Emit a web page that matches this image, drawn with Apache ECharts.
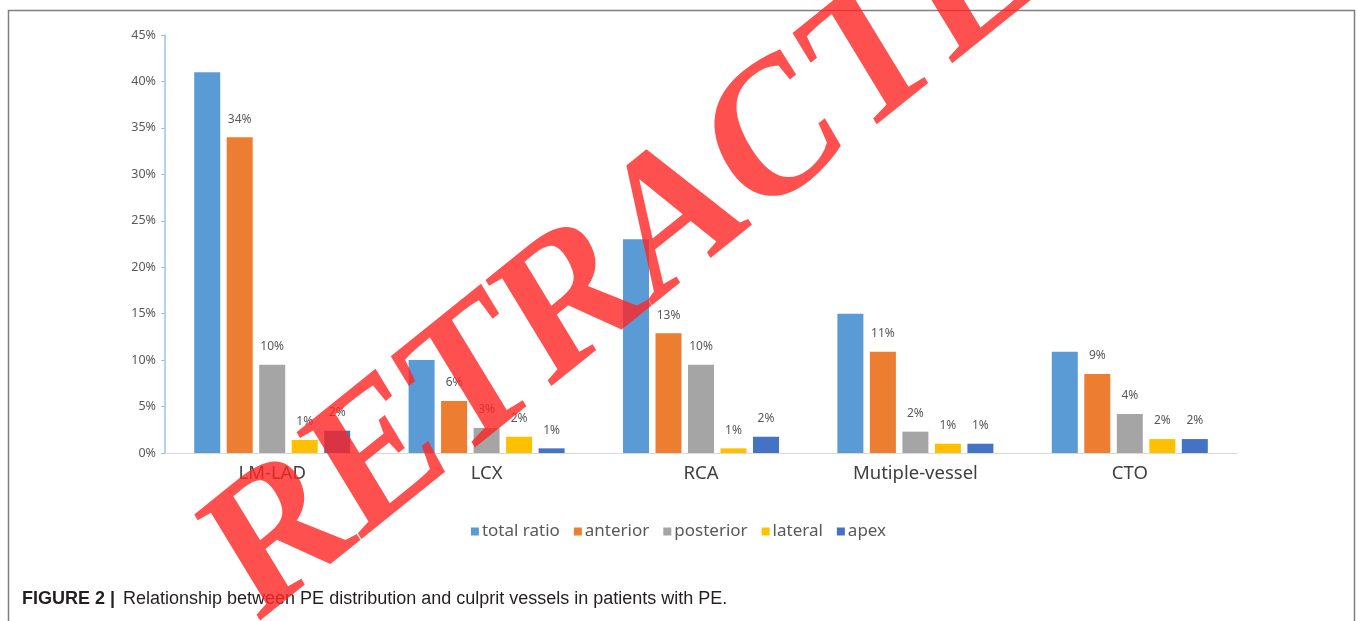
<!DOCTYPE html>
<html>
<head>
<meta charset="utf-8">
<script src="https://cdn.jsdelivr.net/npm/echarts@6/dist/echarts.min.js"></script>
<style>
  html, body { margin: 0; padding: 0; background: #fff; }
  #chart { width: 1357px; height: 621px; }
</style>
</head>
<body>
<div id="chart"></div>
<script>
// Culprit vessel groups and PE distribution shares (percent)
const categories = ['LM-LAD', 'LCX', 'RCA', 'Mutiple-vessel', 'CTO'];
const totalRatio = [41, 10, 23, 15, 10.9];
const anterior   = [34, 5.6, 12.9, 10.9, 8.5];
const posterior  = [9.5, 2.7, 9.5, 2.3, 4.2];
const lateral    = [1.4, 1.75, 0.5, 1, 1.5];
const apex       = [2.4, 0.5, 1.75, 1, 1.5];
const seriesNames = ['total ratio', 'anterior', 'posterior', 'lateral', 'apex'];
const yTicks = { min: 0, max: 45, interval: 5 };
const captionBold = 'FIGURE 2 |';
const captionText = 'Relationship between PE distribution and culprit vessels in patients with PE.';
const stampText = 'RETRACTED';

const colors = ['#5b9bd5', '#ed7d31', '#a5a5a5', '#ffc000', '#4472c4'];
const sans = '"Noto Sans", "Open Sans", sans-serif';

function makeSeries(name, data, idx, labelled) {
  return {
    name: name,
    type: 'bar',
    data: data,
    barWidth: 26,
    barGap: '25%',
    itemStyle: { color: colors[idx] },
    label: {
      show: labelled,
      position: 'top',
      distance: 12,
      color: '#595959',
      fontFamily: sans,
      fontSize: 12,
      formatter: p => Math.round(p.value) + '%'
    }
  };
}

const chart = echarts.init(document.getElementById('chart'), null, { renderer: 'canvas' });
chart.setOption({
  animation: false,
  backgroundColor: '#fff',
  color: colors,
  grid: { left: 165, right: 120, top: 35, bottom: 168 },
  legend: {
    data: seriesNames,
    top: 518,
    left: 'center',
    itemWidth: 8,
    itemHeight: 8,
    itemGap: 14,
    icon: 'rect',
    textStyle: { color: '#595959', fontFamily: sans, fontSize: 17, padding: [0, 0, 0, -2] }
  },
  xAxis: {
    type: 'category',
    data: categories,
    axisLine: { lineStyle: { color: '#d9d9d9', width: 1 } },
    axisTick: { show: false },
    axisLabel: { color: '#404040', fontFamily: sans, fontSize: 18.5, margin: 11 }
  },
  yAxis: {
    type: 'value',
    min: yTicks.min,
    max: yTicks.max,
    interval: yTicks.interval,
    splitLine: { show: false },
    axisLine: { show: true, lineStyle: { color: '#9dc3e6', width: 1.5 } },
    axisTick: { show: true, length: 4, lineStyle: { color: '#9dc3e6' } },
    axisLabel: { color: '#595959', fontFamily: sans, fontSize: 12.5, margin: 9, formatter: '{value}%' }
  },
  series: [
    makeSeries(seriesNames[0], totalRatio, 0, false),
    makeSeries(seriesNames[1], anterior, 1, true),
    makeSeries(seriesNames[2], posterior, 2, true),
    makeSeries(seriesNames[3], lateral, 3, true),
    makeSeries(seriesNames[4], apex, 4, true)
  ],
  graphic: [
    {
      type: 'rect',
      z: 100,
      shape: { x: 8.5, y: 10.5, width: 1346, height: 700 },
      style: { fill: 'none', stroke: '#7f7f7f', lineWidth: 1.5 }
    },
    {
      type: 'text',
      z: 100,
      x: 22,
      y: 599,
      style: {
        text: captionBold,
        font: 'bold 18px "Liberation Sans", Arial, sans-serif',
        fill: '#231f20',
        verticalAlign: 'middle'
      }
    },
    {
      type: 'text',
      z: 100,
      x: 123,
      y: 599,
      style: {
        text: captionText,
        font: '18px "Liberation Sans", Arial, sans-serif',
        fill: '#231f20',
        verticalAlign: 'middle'
      }
    },
    {
      // diagonal stamp: rotated, then stretched vertically
      type: 'group',
      x: 676,
      y: 223,
      scaleY: 1.15,
      z: 200,
      children: [
        {
          type: 'text',
          z: 200,
          x: 0,
          y: 0,
          rotation: 35 * Math.PI / 180,
          style: {
            text: stampText,
            font: 'bold 173px "Liberation Serif", "DejaVu Serif", serif',
            fill: 'rgba(255, 36, 36, 0.8)',
            align: 'center',
            verticalAlign: 'middle'
          }
        }
      ]
    }
  ]
});
</script>
</body>
</html>
